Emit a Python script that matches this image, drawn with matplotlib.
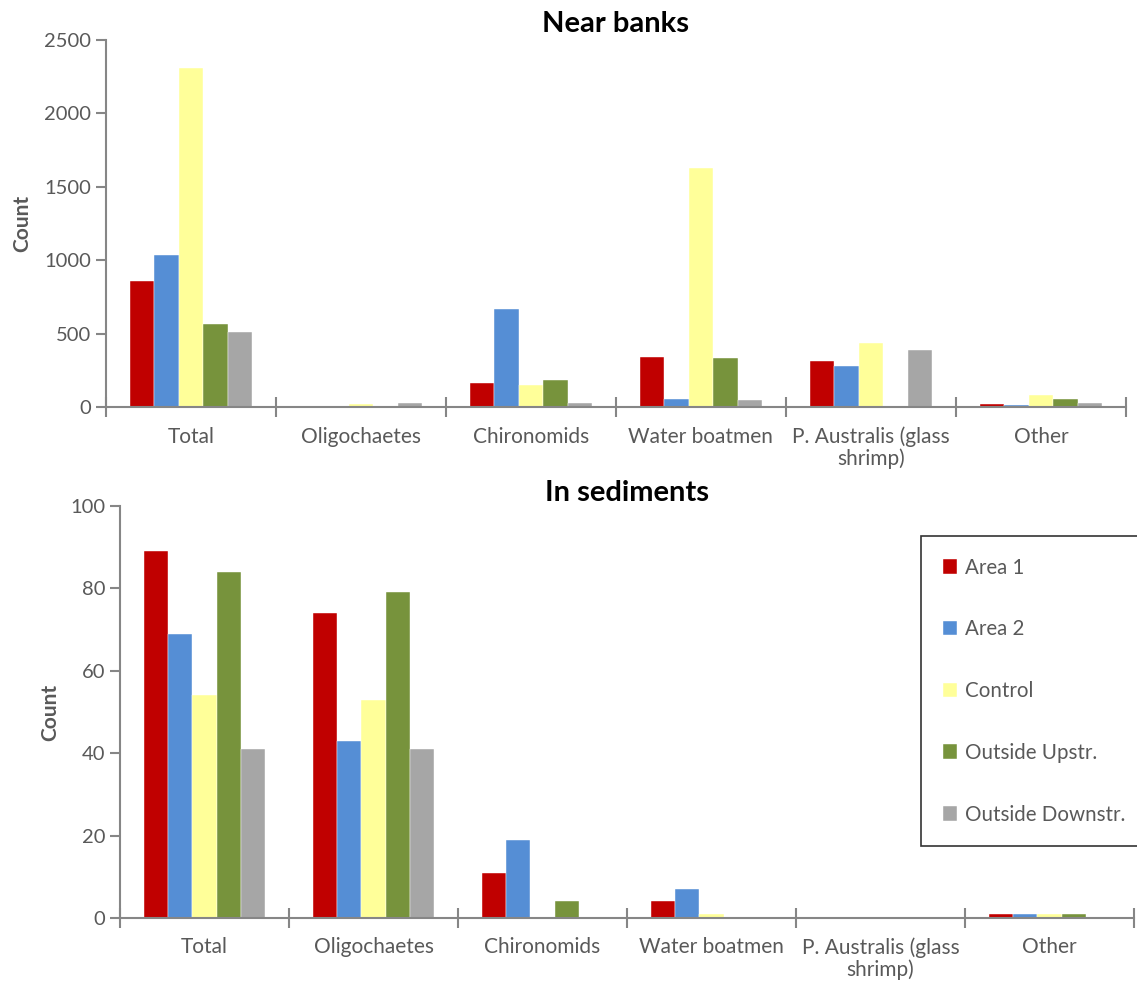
import numpy as np
import matplotlib.pyplot as plt

plt.rcParams['font.family'] = ['Lato', 'DejaVu Sans']

# dados
categorias = ['Total', 'Oligochaetes', 'Chironomids', 'Water boatmen',
              'P. Australis (glass\nshrimp)', 'Other']
series = ['Area 1', 'Area 2', 'Control', 'Outside Upstr.', 'Outside Downstr.']
cores = ['#C00000', '#558ED5', '#FFFF99', '#77933C', '#A6A6A6']

# Near banks
banks_area1 = [858, 0, 165, 340, 316, 18]
banks_area2 = [1035, 0, 665, 55, 282, 12]
banks_control = [2309, 20, 148, 1627, 436, 82]
banks_upstr = [565, 0, 182, 336, 0, 55]
banks_downstr = [511, 27, 27, 45, 390, 25]

# In sediments
sed_area1 = [89, 74, 11, 4, 0, 1]
sed_area2 = [69, 43, 19, 7, 0, 1]
sed_control = [54, 53, 0, 1, 0, 1]
sed_upstr = [84, 79, 4, 0, 0, 1]
sed_downstr = [41, 41, 0, 0, 0, 0]

cinza = '#595959'
eixo = '#868686'

fig = plt.figure(figsize=(11.37, 9.88), dpi=100)
ax1 = fig.add_axes([0.0932, 0.588, 0.897, 0.3715])
ax2 = fig.add_axes([0.1055, 0.0709, 0.892, 0.417])

barWidth = 0.144
x = np.arange(len(categorias))


def desenha(ax, dados, titulo, ymax, passo, tpad, lpad):
    for i, vals in enumerate(dados):
        ax.bar(x + (i - 2) * barWidth, vals, width=barWidth, color=cores[i],
               edgecolor='white', linewidth=0.3, label=series[i], zorder=2)
    ax.set_xlim(-0.5, len(categorias) - 0.5)
    ax.set_ylim(0, ymax)
    ax.set_yticks(np.arange(0, ymax + 1, passo))
    ax.set_xticks(x)
    ax.set_xticklabels(categorias, fontsize=15, color=cinza, linespacing=1.1)
    ax.set_xticks(np.arange(-0.5, len(categorias)), minor=True)
    ax.tick_params(axis='x', which='major', length=0, pad=14)
    ax.tick_params(axis='x', which='minor', length=14, direction='inout',
                   color=eixo, width=1.5)
    ax.tick_params(axis='y', length=7, color=eixo, width=1.5,
                   labelsize=14.5, labelcolor=cinza)
    for s in ['top', 'right']:
        ax.spines[s].set_visible(False)
    for s in ['left', 'bottom']:
        ax.spines[s].set_color(eixo)
        ax.spines[s].set_linewidth(1.5)
    ax.set_ylabel('Count', fontsize=15, fontweight='bold', color=cinza,
                  labelpad=lpad)
    ax.set_title(titulo, fontsize=21, fontweight='bold', pad=tpad)


desenha(ax1, [banks_area1, banks_area2, banks_control, banks_upstr, banks_downstr],
        'Near banks', 2500, 500, 6, 9)
desenha(ax2, [sed_area1, sed_area2, sed_control, sed_upstr, sed_downstr],
        'In sediments', 100, 20, -3, 7)

leg = ax2.legend(loc='upper left', bbox_to_anchor=(0.79, 0.182, 0.25, 0.745),
                 mode='expand', fontsize=14.8,
                 labelspacing=2.03, handlelength=0.7, handleheight=0.7,
                 handletextpad=0.4, borderpad=1.05, fancybox=False,
                 borderaxespad=0, frameon=True)
leg.get_frame().set_edgecolor('black')
leg.get_frame().set_linewidth(1.2)
for t in leg.get_texts():
    t.set_color(cinza)

plt.savefig('out.png')
